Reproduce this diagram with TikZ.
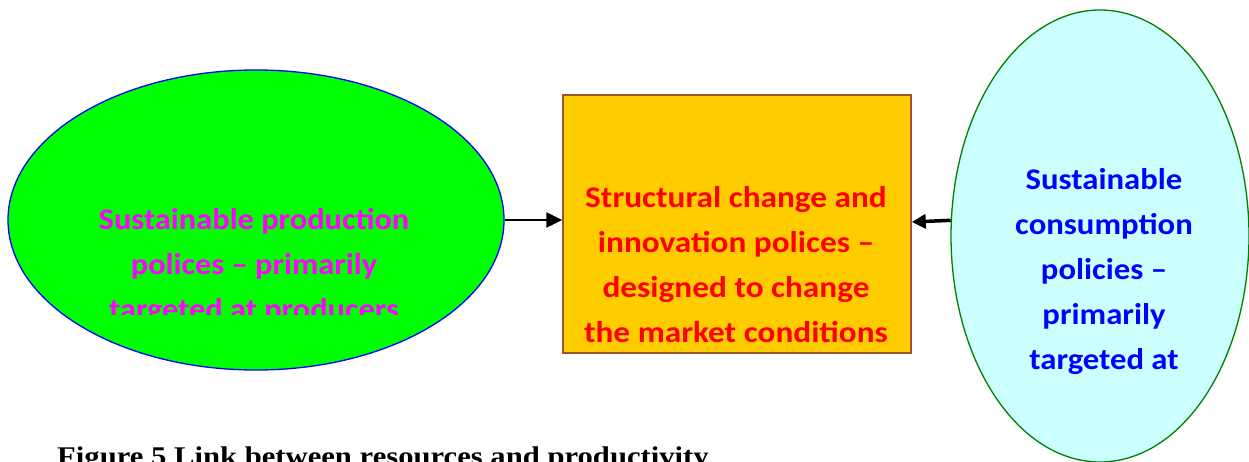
\documentclass[tikz,border=0pt]{standalone}
\usepackage{fontspec}
\setmainfont{Carlito}
\newfontfamily\capfont{Liberation Serif}
\usetikzlibrary{shapes.geometric,arrows.meta}
\definecolor{lgreen}{HTML}{00FF00}
\definecolor{lmag}{HTML}{FF00FF}
\definecolor{boxfill}{HTML}{FFCC00}
\definecolor{boxline}{HTML}{A0522D}
\definecolor{lcyan}{HTML}{CCFFFF}
\definecolor{rline}{HTML}{008000}
\tikzset{
  bigtext/.style={font=\bfseries\fontsize{30}{45}\selectfont, align=center, inner sep=0pt, transform shape},
  link/.style={line width=2.5pt, -{Triangle[length=16pt,width=15pt]}},
}
\begin{document}
\begin{tikzpicture}[x=1pt,y=-1pt]
\useasboundingbox (0,0) rectangle (1249,462);
\node[ellipse, draw=blue, fill=lgreen, line width=1.3pt, minimum width=496pt, minimum height=300pt, inner sep=0pt] (L) at (256,220) {};
\node[rectangle, draw=boxline, fill=boxfill, line width=1.5pt, minimum width=348pt, minimum height=258pt, inner sep=0pt] (B) at (737,224) {};
\node[ellipse, draw=rline, fill=lcyan, line width=1.3pt, minimum width=298pt, minimum height=452pt, inner sep=0pt] (R) at (1100,236) {};
\begin{scope}
\clip (0,0) rectangle (1249,314);
\node[bigtext, xscale=1.08, text=lmag, anchor=base] (Lt) at (254,319) {Sustainable production\\polices – primarily\\targeted at producers};
\end{scope}
\begin{scope}
\clip (0,0) rectangle (1249,343);
\node[bigtext, xscale=1.11, text=red, anchor=base] (Bt) at (736,342.5) {Structural change and\\innovation polices –\\designed to change\\the market conditions};
\end{scope}
\node[bigtext, xscale=1.09, text=blue, anchor=base] (Rt) at (1104,369) {Sustainable\\consumption\\policies –\\primarily\\targeted at};
\draw[link] (L.east) -- (L.east -| B.west);
\draw[link, line width=3.5pt, -{Triangle[length=14pt,width=14pt]}] (R.174.3) -- ([yshift=2pt]B.east);
\node[font=\capfont\bfseries\fontsize{27}{27}\selectfont, xscale=1.135, transform shape, anchor=base west, inner sep=0pt] (cap) at (57,465) {Figure 5 Link between resources and productivity};
\end{tikzpicture}
\end{document}
